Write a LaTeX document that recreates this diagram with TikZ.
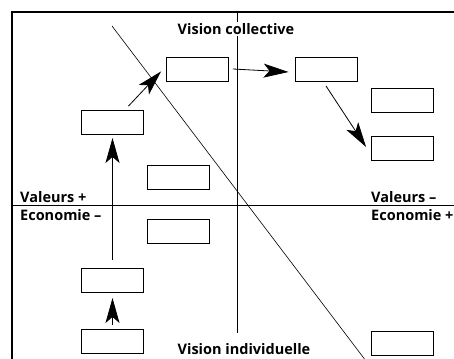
\documentclass[tikz,border=0pt]{standalone}
\usepackage{fontspec}
\setmainfont{Open Sans}
\usepackage{tikz}
\usetikzlibrary{arrows.meta}
\tikzstyle{Box}=[rectangle,draw,line width=0.9pt,minimum width=62pt,
minimum height=24pt,inner sep=0pt]
\tikzstyle{Edge}=[draw,line width=0.8pt,-{Stealth[length=25pt,width=14pt,inset=6pt]}]
\tikzstyle{Axis}=[draw,line width=0.8pt]
\tikzstyle{Label}=[font=\bfseries\fontsize{14.5}{16}\selectfont,inner sep=1pt]

\begin{document}
\begin{tikzpicture}[x=1pt,y=-1pt]
        \path[use as bounding box](0,0)rectangle(454,358);
        \clip(0,0)rectangle(454,358);
        % frame, axes and diagonal
        \draw[Axis,line width=1.1pt](12,372)--(12,12)--(470,12);
        \coordinate(vtop)at(237,12);
        \coordinate(vbot)at(237,333);
        \coordinate(hl)at(12,205);
        \coordinate(hr)at(470,205);
        \coordinate(dtop)at(112,26);
        \coordinate(dbot)at(366,361);
        \draw[Axis](vtop)--(vbot);
        \draw[Axis](hl)--(hr);
        \draw[Axis,line width=0.6pt](dtop)--(dbot);
        % labels
        \node[Label,fill=white](vc)at(236,29){Vision collective};
        \node[Label](vi)at(244,349){Vision individuelle};
        \node[Label,anchor=west](vp)at(19,197){Valeurs +};
        \node[Label,anchor=west](em)at(19,215){Economie --};
        \node[Label,anchor=west](vm)at(370,197){Valeurs --};
        \node[Label,anchor=west](ep)at(370,215){Economie +};
        % boxes
        \node[Box](b1)at(197.5,69){};
        \node[Box](b2)at(326,69.5){};
        \node[Box](b3)at(402.5,100){};
        \node[Box](b4)at(402.5,148.5){};
        \node[Box](b5)at(112.5,122.5){};
        \node[Box](b6)at(178.5,177.5){};
        \node[Box](b7)at(178.5,231.5){};
        \node[Box](b8)at(112.5,280.5){};
        \node[Box](b9)at(112.5,341.5){};
        \node[Box](b10)at(402.5,343){};
        % arrows
        \draw[Edge]([yshift=4pt]b9.north)--([yshift=-5pt]b8.south);
        \draw[Edge]([yshift=8pt]b8.north)--([yshift=-3pt]b5.south);
        \draw[Edge]([xshift=16pt,yshift=4pt]b5.north)--([xshift=-5pt,yshift=10pt]b1.south west);
        \draw[Edge]([xshift=4pt]b1.east)--([xshift=-6pt,yshift=-2.5pt]b2.west);
        \draw[Edge]([yshift=-4pt]b2.south)--([xshift=-5pt,yshift=1.5pt]b4.west);
\end{tikzpicture}
\end{document}
